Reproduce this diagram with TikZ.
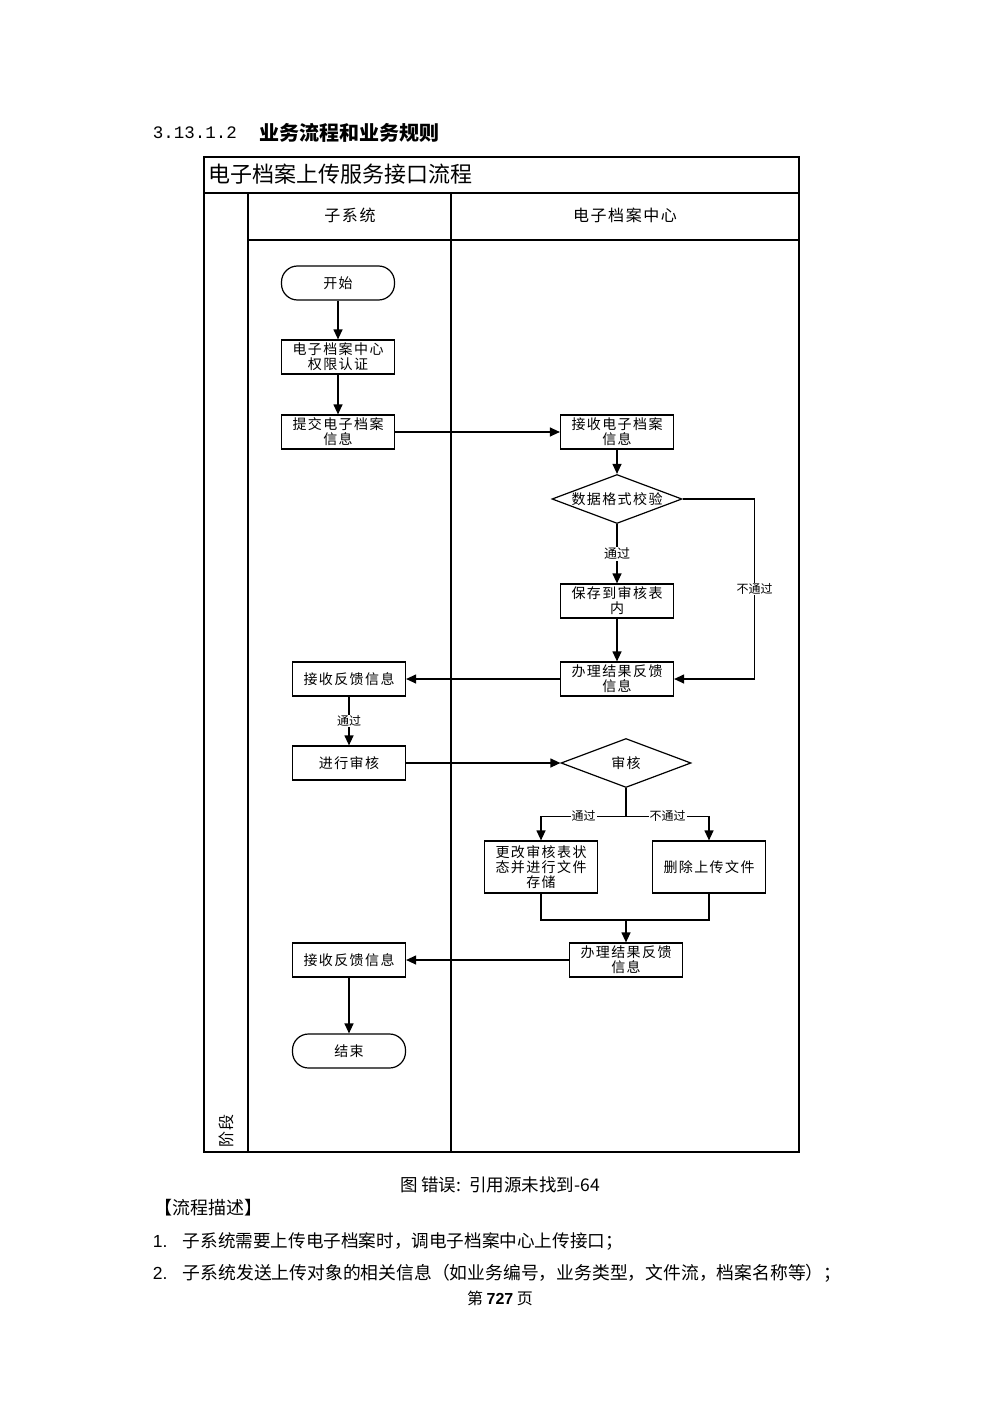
\documentclass[tikz,border=0pt]{standalone}
\usepackage{fontspec}
\setmainfont{Noto Sans CJK SC}
\newfontfamily\spaced[LetterSpace=10]{Noto Sans CJK SC}
\newfontfamily\latinsans{Liberation Sans}
\newfontfamily\latinmono{Liberation Mono}
\usetikzlibrary{arrows.meta, shapes.geometric, positioning, calc}

\begin{document}
\begin{tikzpicture}[x=1pt, y=-1pt, line width=1.2pt,
    box/.style={draw, rectangle, minimum width=113pt, minimum height=34pt, inner sep=0pt,
        align=center, font=\fontsize{14}{15}\selectfont\spaced},
    term/.style={box, rounded corners=16pt},
    check/.style={draw, diamond, aspect=2.6, minimum width=130pt, minimum height=49pt,
        inner sep=0pt, font=\fontsize{14}{15}\selectfont\spaced},
    lbl/.style={fill=white, inner sep=1pt, font=\fontsize{12}{14}\selectfont},
    arr/.style={-{Triangle[length=10pt, width=9pt]}}]
    \useasboundingbox (0,0) rectangle (1000,1415);

    % heading above the chart
    \node[anchor=west, font=\fontsize{17.5}{20}\selectfont\latinmono] (secno) at (149,133) {3.13.1.2};
    \node[anchor=west, font=\fontsize{20}{22}\selectfont\bfseries] (sectitle) at (256,133) {业务流程和业务规则};

    % frame and lanes
    \draw (204,157) rectangle (799,1152);
    \draw (204,193) -- (799,193);
    \draw (248,193) -- (248,1152);
    \draw (451,193) -- (451,1152);
    \draw (248,240) -- (799,240);

    \node[anchor=west, font=\fontsize{22}{24}\selectfont] (title) at (205,174) {电子档案上传服务接口流程};
    \node[font=\fontsize{16}{18}\selectfont\spaced] (lanesub) at (350,215) {子系统};
    \node[font=\fontsize{16}{18}\selectfont\spaced] (lanecenter) at (625,215) {电子档案中心};
    \node[rotate=90, font=\fontsize{16}{18}\selectfont\spaced] (phase) at (226,1131) {阶段};

    % steps
    \node[term] (start) at (338,283) {开始};
    \node[box] (auth) at (338,357) {电子档案中心\\权限认证};
    \node[box] (submit) at (338,432) {提交电子档案\\信息};
    \node[box] (receive) at (617,432) {接收电子档案\\信息};
    \node[check] (format) at (617,499) {数据格式校验};
    \node[box] (save) at (617,601) {保存到审核表\\内};
    \node[box] (result1) at (617,679) {办理结果反馈\\信息};
    \node[box] (feedback1) at (349,679) {接收反馈信息};
    \node[box] (review) at (349,763) {进行审核};
    \node[check] (audit) at (626,763) {审核};
    \node[box, minimum height=52pt] (store) at (541,867) {更改审核表状\\态并进行文件\\存储};
    \node[box, minimum height=52pt] (delete) at (709,867) {删除上传文件};
    \node[box] (result2) at (626,960) {办理结果反馈\\信息};
    \node[box] (feedback2) at (349,960) {接收反馈信息};
    \node[term] (end) at (349,1051) {结束};
    \coordinate (join) at (626,920);

    % connectors
    \draw[arr] (start) -- (auth);
    \draw[arr] (auth) -- (submit);
    \draw[arr] (submit) -- (receive);
    \draw[arr] (receive) -- (format);
    \draw[arr] (format) -- node[lbl, font=\fontsize{13}{15}\selectfont]{通过} (save);
    \draw[arr] (save) -- (result1);
    \draw[arr] (format.east) -- ++(72,0) |- node[lbl, pos=0.25]{不通过} (result1.east);
    \draw[arr] (result1) -- (feedback1);
    \draw[arr] (feedback1) -- node[lbl]{通过} (review);
    \draw[arr] (review) -- (audit);
    \draw (audit.south) -- ++(0,28) coordinate (split);
    \draw[arr] (split) -| node[lbl, pos=0.25]{通过} (store.north);
    \draw[arr] (split) -| node[lbl, pos=0.25]{不通过} (delete.north);
    \draw (store.south) |- (join) -| (delete.south);
    \draw[arr] (join) -- (result2);
    \draw[arr] (result2) -- (feedback2);
    \draw[arr] (feedback2) -- (end);

    % text below the chart
    \node[font=\fontsize{17.5}{20}\selectfont] (caption) at (500,1185) {图 错误:\, 引用源未找到-64};
    \node[anchor=west, font=\fontsize{18}{20}\selectfont] (desc) at (151,1208) {【流程描述】};
    \node[anchor=west, font=\fontsize{17.5}{20}\selectfont\latinsans] (no1) at (149,1241) {1.};
    \node[anchor=west, font=\fontsize{17.6}{20}\selectfont] (item1) at (179,1241) {子系统需要上传电子档案时，调电子档案中心上传接口；};
    \node[anchor=west, font=\fontsize{17.5}{20}\selectfont\latinsans] (no2) at (149,1273) {2.};
    \node[anchor=west, font=\fontsize{17.8}{20}\selectfont] (item2) at (179,1273) {子系统发送上传对象的相关信息（如业务编号，业务类型，文件流，档案名称等）；};
    \node[font=\fontsize{16}{18}\selectfont] (pageno) at (500,1298) {第 {\latinsans\bfseries 727} 页};
\end{tikzpicture}
\end{document}
